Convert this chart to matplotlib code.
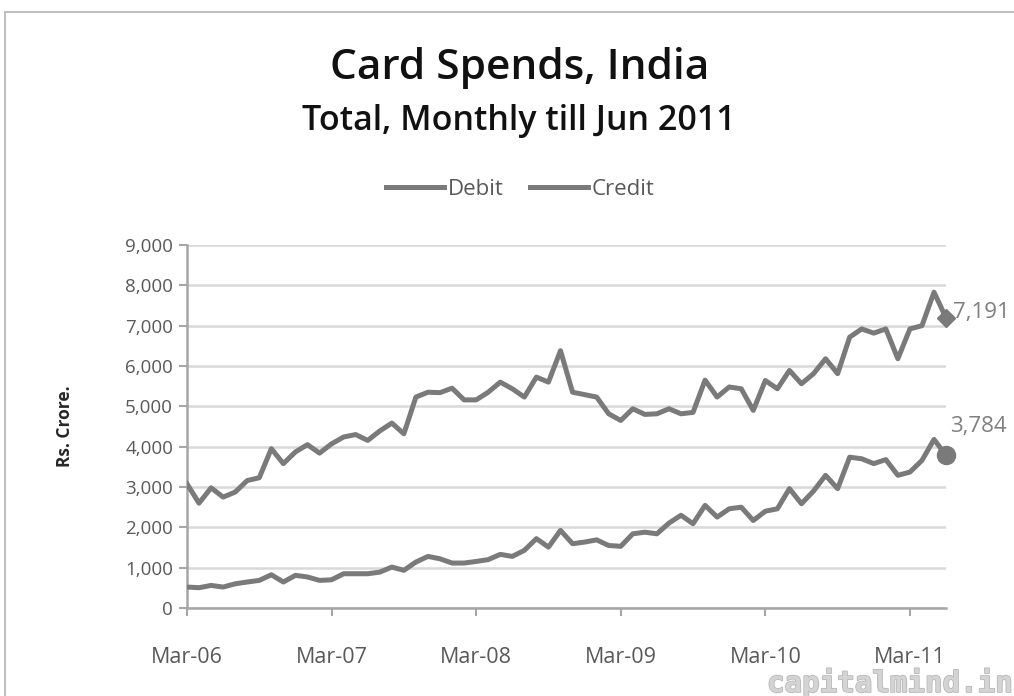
import matplotlib
matplotlib.use("Agg")
import matplotlib.pyplot as plt
from matplotlib.patches import Rectangle
from matplotlib.ticker import FuncFormatter
import matplotlib.patheffects as pe

plt.rcParams['font.family'] = ['Open Sans', 'DejaVu Sans']

# Monthly data, Mar-06 .. Jun-11 (Rs. Crore)
months = [f"{m}-{y:02d}" for y in range(6, 12) for m in
          ["Jan", "Feb", "Mar", "Apr", "May", "Jun", "Jul", "Aug", "Sep", "Oct", "Nov", "Dec"]]
months = months[2:2 + 64]

credit = [3080, 2600, 2980, 2750, 2875, 3160, 3230, 3950, 3580, 3870, 4050, 3840,
          4070, 4240, 4300, 4155, 4390, 4585, 4320, 5230, 5350, 5340, 5450, 5160,
          5160, 5350, 5600, 5435, 5230, 5725, 5600, 6380, 5350, 5290, 5230, 4815,
          4650, 4940, 4800, 4815, 4940, 4815, 4850, 5650, 5230, 5480, 5435, 4900,
          5640, 5435, 5890, 5560, 5810, 6180, 5810, 6715, 6920, 6815, 6920, 6180,
          6920, 7000, 7830, 7191]
debit = [520, 504, 560, 520, 600, 645, 685, 825, 645, 810, 770, 685,
         700, 850, 850, 850, 890, 1015, 935, 1140, 1280, 1220, 1115, 1115,
         1155, 1200, 1330, 1280, 1430, 1720, 1510, 1925, 1595, 1635, 1690, 1550,
         1530, 1840, 1880, 1840, 2105, 2300, 2090, 2545, 2255, 2460, 2500, 2170,
         2400, 2460, 2960, 2585, 2900, 3290, 2960, 3740, 3700, 3580, 3680, 3290,
         3370, 3660, 4180, 3784]
xtick_labels = ["Mar-06", "Mar-07", "Mar-08", "Mar-09", "Mar-10", "Mar-11"]
yticks = list(range(0, 9001, 1000))

LINE = "#7a7a7a"
TXT = "#595959"

fig = plt.figure(figsize=(10.14, 6.96), dpi=100)
fig.patches.append(Rectangle((0.005, -0.05), 1.2, 1.033, transform=fig.transFigure,
                             fill=False, edgecolor="#bfbfbf", linewidth=1.5))
ax = fig.add_axes([0.1844, 0.1264, 0.7486, 0.5216])

x = list(range(len(months)))
ax.plot(x, debit, color=LINE, lw=3.6, label="Debit", solid_joinstyle="round", zorder=3)
ax.plot(x, credit, color=LINE, lw=3.6, label="Credit", solid_joinstyle="round", zorder=3)
ax.plot([x[-1]], [credit[-1]], marker="D", ms=9, color=LINE, zorder=4, clip_on=False)
ax.plot([x[-1]], [debit[-1]], marker="o", ms=13, color=LINE, zorder=4, clip_on=False)
ax.annotate(f"{credit[-1]:,}", (x[-1], credit[-1]), xytext=(5, 4), textcoords="offset points",
            color="#7f7f7f", fontsize=16, ha="left", va="center", annotation_clip=False)
ax.annotate(f"{debit[-1]:,}", (x[-1], debit[-1]), xytext=(3, 21), textcoords="offset points",
            color="#7f7f7f", fontsize=16, ha="left", va="center", annotation_clip=False)

ax.set_xlim(0, len(months) - 1)
ax.set_ylim(0, 9000)
ax.set_yticks(yticks)
ax.yaxis.set_major_formatter(FuncFormatter(lambda v, p: f"{int(v):,}"))
ax.set_xticks([months.index(t) for t in xtick_labels])
ax.set_xticklabels(xtick_labels)
ax.grid(axis="y", color="#d9d9d9", lw=1.8)
ax.set_axisbelow(True)
for s in ["top", "right"]:
    ax.spines[s].set_visible(False)
for s in ["left", "bottom"]:
    ax.spines[s].set_color("#a6a6a6")
    ax.spines[s].set_linewidth(1.8)
ax.tick_params(axis="both", colors="#a6a6a6", labelcolor=TXT, width=1.5, length=6)
ax.tick_params(axis="x", pad=22, labelsize=15.5)
ax.tick_params(axis="y", pad=4, labelsize=13.5)
ax.set_ylabel("Rs. Crore.", fontsize=12.5, fontweight="bold", color="#262626", labelpad=37)

fig.text(0.512, 0.903, "Card Spends, India", ha="center", va="center", fontsize=30.5,
         fontweight="semibold", color="#111111")
fig.text(0.512, 0.826, "Total, Monthly till Jun 2011", ha="center", va="center", fontsize=24.5,
         fontweight="semibold", color="#111111")
leg = fig.legend(loc="center", bbox_to_anchor=(0.513, 0.728), ncol=2, frameon=False, fontsize=16,
                 handlelength=2.6, columnspacing=1.2, handletextpad=0.15)
for t in leg.get_texts():
    t.set_color(TXT)

fig.text(0.998, 0.018, "capitalmind.in", ha="right", va="center", fontsize=21, fontweight="bold",
         color="#d4d4d4", family=["DejaVu Sans Mono"],
         path_effects=[pe.withStroke(linewidth=1.2, foreground="#b8b8b8")])

fig.savefig("out.png", dpi=100)
